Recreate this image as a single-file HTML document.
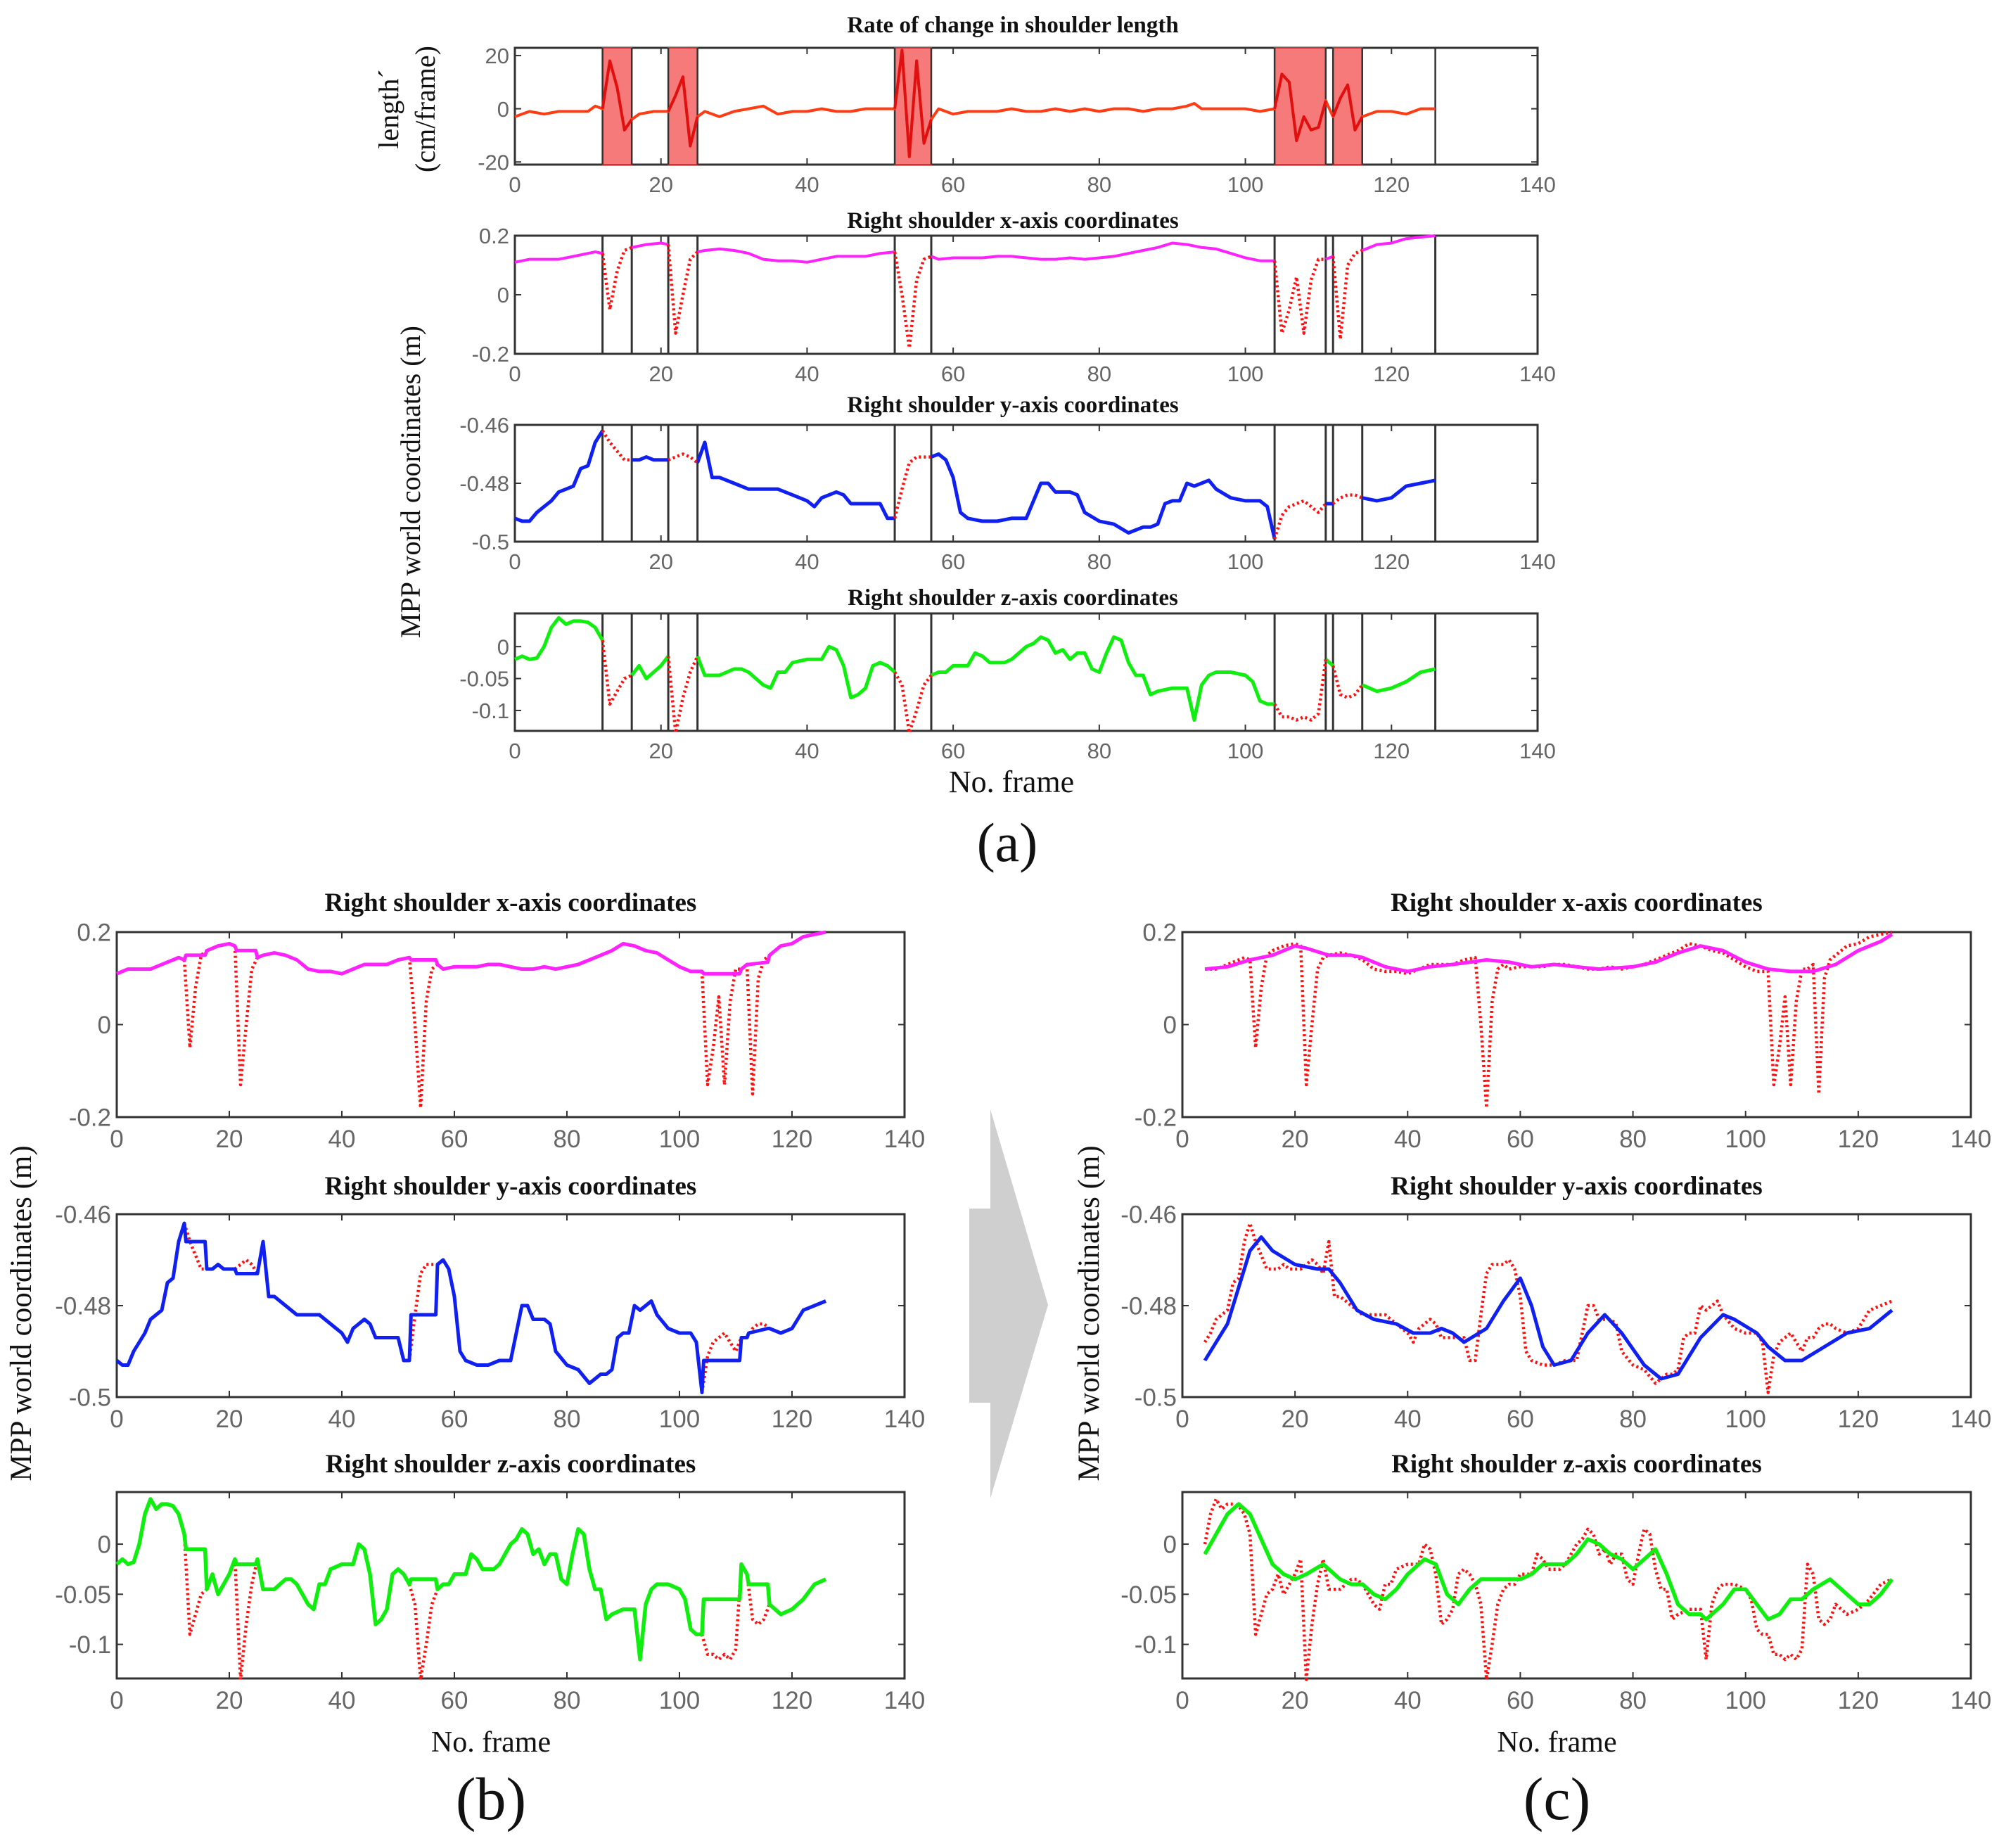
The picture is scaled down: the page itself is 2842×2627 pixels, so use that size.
<!DOCTYPE html>
<html><head><meta charset="utf-8"><style>
html,body{margin:0;padding:0;background:#fff;}
svg{display:block;}
</style></head><body>
<svg id="fig" width="2842" height="2627" viewBox="0 0 2842 2627" xmlns="http://www.w3.org/2000/svg"></svg>
<script>
// ---- data ----
const bounds = [12,16,21,25,52,57,104,111,112,116,126];
const intervals = [[12,16],[21,25],[52,57],[104,111],[112,116]];
const rateF = [0,2,4,6,8,10,11,12,13,14,15,16,17,19,21,22,23,24,25,26,28,30,32,34,36,38,40,42,44,46,48,50,52,53,54,55,56,57,58,60,62,64,66,68,70,72,74,76,78,80,82,84,86,88,90,92,93,94,96,98,100,102,104,105,106,107,108,109,110,111,112,113,114,115,116,118,120,122,124,126];
const rateV = [-3,-1,-2,-1,-1,-1,1,0,18,8,-8,-4,-2,-1,-1,5,12,-14,-3,-1,-3,-1,0,1,-2,-1,-1,0,-1,-1,0,0,0,22,-18,18,-13,-4,0,-2,-1,-1,-1,0,-1,-1,0,-1,0,-1,0,0,-1,0,0,1,2,0,0,0,0,-1,0,13,10,-12,-3,-8,-7,3,-3,4,9,-8,-3,-1,-1,-2,0,0];
const xF = [0,2,4,6,8,10,11,12,16,18,20,21,25,26,28,30,32,34,36,38,40,42,44,46,48,50,52,57,58,60,62,64,66,68,70,72,74,76,78,80,82,84,86,88,90,92,94,96,98,100,102,104,111,112,116,118,120,122,124,126];
const xV = [0.11,0.12,0.12,0.12,0.13,0.14,0.145,0.14,0.16,0.17,0.175,0.17,0.145,0.15,0.155,0.15,0.14,0.12,0.115,0.115,0.11,0.12,0.13,0.13,0.13,0.14,0.145,0.13,0.12,0.125,0.125,0.125,0.13,0.13,0.125,0.12,0.12,0.125,0.12,0.125,0.13,0.14,0.15,0.16,0.175,0.17,0.16,0.155,0.14,0.125,0.115,0.115,0.12,0.13,0.15,0.17,0.175,0.19,0.195,0.2];
const xDipF = [12,13,14,15,16,21,22,23,24,25,52,53,54,55,56,57,104,105,106,107,108,109,110,111,112,113,114,115,116];
const xDipV = [0.14,-0.05,0.08,0.15,0.16,0.17,-0.13,0.0,0.12,0.145,0.145,0.0,-0.18,0.05,0.12,0.13,0.115,-0.13,-0.05,0.06,-0.13,0.05,0.12,0.12,0.13,-0.15,0.1,0.14,0.15];
const yF = [0,1,2,3,4,5,6,7,8,9,10,11,12,16,17,18,19,20,21,25,26,27,28,30,32,34,36,38,40,41,42,44,45,46,48,50,51,52,57,58,59,60,61,62,64,66,68,70,71,72,73,74,76,77,78,80,82,84,86,87,88,89,90,91,92,93,95,96,98,100,102,103,104,111,112,116,118,120,122,124,126];
const yV = [-0.492,-0.493,-0.493,-0.49,-0.488,-0.486,-0.483,-0.482,-0.481,-0.475,-0.474,-0.466,-0.462,-0.472,-0.472,-0.471,-0.472,-0.472,-0.472,-0.473,-0.466,-0.478,-0.478,-0.48,-0.482,-0.482,-0.482,-0.484,-0.486,-0.488,-0.485,-0.483,-0.484,-0.487,-0.487,-0.487,-0.492,-0.492,-0.471,-0.47,-0.472,-0.478,-0.49,-0.492,-0.493,-0.493,-0.492,-0.492,-0.486,-0.48,-0.48,-0.483,-0.483,-0.484,-0.49,-0.493,-0.494,-0.497,-0.495,-0.495,-0.494,-0.487,-0.486,-0.486,-0.48,-0.481,-0.479,-0.482,-0.485,-0.486,-0.486,-0.488,-0.499,-0.487,-0.487,-0.485,-0.486,-0.485,-0.481,-0.48,-0.479];
const yDipF = [12,13,14,15,16,21,22,23,24,25,52,53,54,55,56,57,104,105,106,107,108,109,110,111,112,113,114,115,116];
const yDipV = [-0.462,-0.466,-0.469,-0.472,-0.472,-0.472,-0.471,-0.47,-0.471,-0.473,-0.492,-0.482,-0.473,-0.471,-0.471,-0.471,-0.499,-0.491,-0.488,-0.487,-0.486,-0.488,-0.49,-0.487,-0.487,-0.485,-0.484,-0.484,-0.485];
const zF = [0,1,2,3,4,5,6,7,8,9,10,11,12,16,17,18,19,20,21,25,26,28,30,31,32,34,35,36,37,38,40,42,43,44,45,46,47,48,49,50,51,52,57,58,59,60,62,63,64,65,67,68,69,70,71,72,73,74,75,76,77,78,79,80,81,82,83,84,85,86,87,88,90,92,93,94,95,96,98,100,101,102,103,104,111,112,116,118,120,122,124,126];
const zV = [-0.02,-0.015,-0.02,-0.018,0.0,0.03,0.045,0.035,0.04,0.04,0.038,0.03,0.01,-0.045,-0.03,-0.05,-0.04,-0.03,-0.015,-0.015,-0.045,-0.045,-0.035,-0.035,-0.04,-0.06,-0.065,-0.04,-0.04,-0.025,-0.02,-0.02,0.0,-0.005,-0.03,-0.08,-0.075,-0.065,-0.03,-0.025,-0.03,-0.04,-0.045,-0.04,-0.04,-0.03,-0.03,-0.01,-0.015,-0.025,-0.025,-0.02,-0.01,0.0,0.005,0.015,0.01,-0.01,-0.005,-0.02,-0.01,-0.01,-0.035,-0.04,-0.01,0.015,0.01,-0.025,-0.045,-0.045,-0.075,-0.07,-0.065,-0.065,-0.115,-0.06,-0.045,-0.04,-0.04,-0.045,-0.055,-0.085,-0.09,-0.09,-0.02,-0.03,-0.06,-0.07,-0.065,-0.055,-0.04,-0.035];
const zDipF = [12,13,14,15,16,21,22,23,24,25,52,53,54,55,56,57,104,105,106,107,108,109,110,111,112,113,114,115,116];
const zDipV = [0.01,-0.09,-0.07,-0.05,-0.045,-0.015,-0.135,-0.08,-0.04,-0.015,-0.04,-0.06,-0.135,-0.1,-0.06,-0.045,-0.09,-0.11,-0.11,-0.115,-0.11,-0.115,-0.105,-0.02,-0.03,-0.075,-0.08,-0.075,-0.06];
const xFillF = [12.3,15.7,21.3,24.7,52.3,56.7,104.3,110.7,112.3,115.7];
const xFillV = [0.15,0.15,0.16,0.16,0.14,0.14,0.11,0.11,0.13,0.135];
const yFillF = [12.3,15.7,21.3,24.7,52.3,56.7,104.3,110.7,112.3,115.7];
const yFillV = [-0.466,-0.466,-0.473,-0.473,-0.482,-0.482,-0.492,-0.492,-0.486,-0.485];
const zFillF = [12.3,15.7,21.3,24.7,52.3,56.7,104.3,110.7,112.3,115.7];
const zFillV = [-0.005,-0.005,-0.02,-0.02,-0.035,-0.035,-0.055,-0.055,-0.04,-0.04];
const cXF = [4,8,12,16,20,22,26,30,32,36,40,44,48,54,58,62,66,70,74,80,84,88,92,96,100,104,108,112,116,120,124,126];
const cXV = [0.12,0.125,0.14,0.15,0.17,0.165,0.15,0.15,0.145,0.125,0.115,0.125,0.13,0.14,0.135,0.125,0.13,0.125,0.12,0.125,0.135,0.155,0.17,0.16,0.135,0.12,0.115,0.115,0.13,0.16,0.18,0.195];
const cYF = [4,6,8,10,12,14,16,20,24,26,28,31,34,38,41,44,46,48,50,54,57,60,62,64,66,69,72,75,78,82,85,88,92,96,98,102,104,107,110,114,118,122,126];
const cYV = [-0.492,-0.488,-0.484,-0.476,-0.468,-0.465,-0.468,-0.471,-0.472,-0.472,-0.475,-0.481,-0.483,-0.484,-0.486,-0.486,-0.485,-0.486,-0.488,-0.485,-0.479,-0.474,-0.48,-0.489,-0.493,-0.492,-0.486,-0.482,-0.486,-0.493,-0.496,-0.495,-0.487,-0.482,-0.483,-0.486,-0.489,-0.492,-0.492,-0.489,-0.486,-0.485,-0.481];
const cZF = [4,6,8,10,12,14,16,18,20,22,25,28,30,32,34,36,38,40,43,45,47,49,51,53,56,60,62,64,68,70,72,74,76,78,80,82,84,86,88,90,92,93,96,98,100,102,104,106,108,110,112,115,118,120,122,124,126];
const cZV = [-0.01,0.01,0.03,0.04,0.03,0.005,-0.02,-0.03,-0.035,-0.03,-0.02,-0.035,-0.04,-0.04,-0.05,-0.055,-0.045,-0.03,-0.015,-0.02,-0.05,-0.06,-0.045,-0.035,-0.035,-0.035,-0.03,-0.02,-0.02,-0.01,0.005,0.0,-0.01,-0.015,-0.025,-0.015,-0.005,-0.03,-0.06,-0.07,-0.07,-0.075,-0.06,-0.045,-0.045,-0.06,-0.075,-0.07,-0.055,-0.055,-0.045,-0.035,-0.05,-0.06,-0.06,-0.05,-0.035];
const xTicks = [0,20,40,60,80,100,120,140];
const rateTicks = [20,0,-20];
const xcTicks = [0.2,0,-0.2];
const ycTicks = [-0.46,-0.48,-0.5];
const zcTicks = [0,-0.05,-0.1];

// ---- drawing ----
const NS = "http://www.w3.org/2000/svg";
const svg = document.getElementById('fig');
function el(tag, attrs, parent){
  const e = document.createElementNS(NS, tag);
  for (const k in attrs) e.setAttribute(k, attrs[k]);
  (parent||svg).appendChild(e);
  return e;
}
function pts(F,V){ return F.map((f,i)=>[f,V[i]]); }
function inside(f){ return intervals.some(iv=>f>iv[0]&&f<iv[1]); }
function merged(F,V,DF,DV){
  const a = pts(F,V).filter(p=>!inside(p[0]) && !DF.includes(p[0]));
  return a.concat(pts(DF,DV)).sort((p,q)=>p[0]-q[0]);
}
function filled(F,V,FF,FV){
  return pts(F,V).filter(p=>!inside(p[0])).concat(pts(FF,FV)).sort((p,q)=>p[0]-q[0]);
}
function makePanel(name, x0,x1,y0,y1,ymin,ymax,yt,ytFmt,fs){
  const g = el('g',{});
  
  
  const P = {g,x0,x1,y0,y1,
    sx:f=>x0+(f-0)/(140-0)*(x1-x0),
    sy:v=>y1-(v-ymin)/(ymax-ymin)*(y1-y0)};
  const box = el('rect',{x:x0,y:y0,width:x1-x0,height:y1-y0,fill:'#fff',stroke:'#333','stroke-width':3},g);
  
  
  xTicks.forEach(t=>{
    const px=P.sx(t);
    el('line',{x1:px,x2:px,y1:y1,y2:y1-9,stroke:'#333','stroke-width':2},g);
    el('line',{x1:px,x2:px,y1:y0,y2:y0+9,stroke:'#333','stroke-width':2},g);
    const tx = el('text',{x:px,y:y1+fs+8,'text-anchor':'middle','font-family':'Liberation Sans, sans-serif','font-size':fs,fill:'#666'},g);
    tx.textContent = t;
    
    
  });
  yt.forEach(t=>{
    const py=P.sy(t);
    el('line',{x1:x0,x2:x0+9,y1:py,y2:py,stroke:'#333','stroke-width':2},g);
    el('line',{x1:x1,x2:x1-9,y1:py,y2:py,stroke:'#333','stroke-width':2},g);
    const tx = el('text',{x:x0-8,y:py+fs*0.36,'text-anchor':'end','font-family':'Liberation Sans, sans-serif','font-size':fs,fill:'#666'},g);
    tx.textContent = ytFmt(t);
    
    
  });
  return P;
}
function poly(P, arr, color, w, dashed, name){
  const d = arr.map(p=>P.sx(p[0]).toFixed(1)+','+P.sy(p[1]).toFixed(1)).join(' ');
  const a = {points:d,fill:'none',stroke:color,'stroke-width':w,'stroke-linejoin':'round'};
  if (dashed) { a['stroke-dasharray']='3 4'; a['stroke-linecap']='butt'; }
  const e = el('polyline',a,P.g);
  
  
  return e;
}
function title(txt,x,y,fs,name){
  const t = el('text',{x:x,y:y,'text-anchor':'middle','font-family':'Liberation Serif, serif','font-weight':'bold','font-size':fs,fill:'#111'});
  t.textContent = txt;
  
  
}
function label(txt,x,y,fs,rot,name){
  const a = {x:x,y:y,'text-anchor':'middle','font-family':'Liberation Serif, serif','font-size':fs,fill:'#111'};
  if (rot) a.transform='rotate(-90 '+x+' '+y+')';
  const t = el('text',a);
  t.textContent = txt;
  
  
}
const fmt2 = t=> t===0?'0':String(t);
function segmentsOutside(arr){
  const segs=[[0,12],[16,21],[25,52],[57,104],[111,112],[116,126]];
  return segs.map(s=>arr.filter(p=>p[0]>=s[0]&&p[0]<=s[1]));
}
function dipSegs(DF,DV){
  return intervals.map(iv=>pts(DF,DV).filter(p=>p[0]>=iv[0]&&p[0]<=iv[1]));
}
function vlines(P,w){
  bounds.forEach(b=>{
    const l = el('line',{x1:P.sx(b),x2:P.sx(b),y1:P.y0,y2:P.y1,stroke:'#333','stroke-width':w},P.g);
    
    
  });
}

// ===== (a) =====
const AX0=732, AX1=2186, FA=31;
title('Rate of change in shoulder length',1440,46,33,'title-rate');
const a1 = makePanel('panel-a-rate',AX0,AX1,68,234,-21,22.9,rateTicks,fmt2,FA);
intervals.forEach(iv=>{
  const r = el('rect',{x:a1.sx(iv[0]),y:a1.y0,width:a1.sx(iv[1])-a1.sx(iv[0]),height:a1.y1-a1.y0,fill:'#f77a7a',stroke:'#c33','stroke-width':2},a1.g);
  
  
});
vlines(a1,2.5);
poly(a1,pts(rateF,rateV),'#ff3d14',4,false,'rate-line');
intervals.forEach(iv=>poly(a1,pts(rateF,rateV).filter(p=>p[0]>=iv[0]&&p[0]<=iv[1]),'#e01010',4,false,'rate-line-anomaly'));

title('Right shoulder x-axis coordinates',1440,324,33,'title-a-x');
const a2 = makePanel('panel-a-x',AX0,AX1,335,503,-0.2,0.2,xcTicks,fmt2,FA);
vlines(a2,3);
segmentsOutside(pts(xF,xV)).forEach(s=>poly(a2,s,'#ff22ff',4,false,'x-line'));
dipSegs(xDipF,xDipV).forEach(s=>poly(a2,s,'#ff1010',4.5,true,'x-missing'));

title('Right shoulder y-axis coordinates',1440,586,33,'title-a-y');
const a3 = makePanel('panel-a-y',AX0,AX1,604,770,-0.5,-0.46,ycTicks,fmt2,FA);
vlines(a3,3);
segmentsOutside(pts(yF,yV)).forEach(s=>poly(a3,s,'#1020f0',5,false,'y-line'));
dipSegs(yDipF,yDipV).forEach(s=>poly(a3,s,'#ff1010',4.5,true,'y-missing'));

title('Right shoulder z-axis coordinates',1440,860,33,'title-a-z');
const a4 = makePanel('panel-a-z',AX0,AX1,872,1039,-0.132,0.052,zcTicks,fmt2,FA);
vlines(a4,3);
segmentsOutside(pts(zF,zV)).forEach(s=>poly(a4,s,'#10ee10',5,false,'z-line'));
dipSegs(zDipF,zDipV).forEach(s=>poly(a4,s,'#ff1010',4.5,true,'z-missing'));

label('No. frame',1438,1126,44,false,'x-axis-title-a');
label('MPP world coordinates  (m)',597,685,40,true,'y-axis-title-a');
label('length´',566,155,40,true,'y-axis-title-rate-1');
label('(cm/frame)',618,155,40,true,'y-axis-title-rate-2');
label('(a)',1432,1224,78,false,'caption-a');

// ===== (b) and (c) =====
const FB=35;
function column(x0,x1,tag,smooth){
  const cx=(x0+x1)/2;
  title('Right shoulder x-axis coordinates',cx,1295,37,'title-'+tag+'-x');
  const p1 = makePanel('panel-'+tag+'-x',x0,x1,1325,1588,-0.2,0.2,xcTicks,fmt2,FB);
  title('Right shoulder y-axis coordinates',cx,1698,37,'title-'+tag+'-y');
  const p2 = makePanel('panel-'+tag+'-y',x0,x1,1726,1986,-0.5,-0.46,ycTicks,fmt2,FB);
  title('Right shoulder z-axis coordinates',cx,2093,37,'title-'+tag+'-z');
  const p3 = makePanel('panel-'+tag+'-z',x0,x1,2121,2386,-0.134,0.052,zcTicks,fmt2,FB);
  if (!smooth){
    dipSegs(xDipF,xDipV).forEach(s=>poly(p1,s,'#ff1010',4.5,true,'x-missing'));
    poly(p1,filled(xF,xV,xFillF,xFillV),'#ff22ff',5,false,'x-line');
    dipSegs(yDipF,yDipV).forEach(s=>poly(p2,s,'#ff1010',4.5,true,'y-missing'));
    poly(p2,filled(yF,yV,yFillF,yFillV),'#1020f0',5,false,'y-line');
    dipSegs(zDipF,zDipV).forEach(s=>poly(p3,s,'#ff1010',4.5,true,'z-missing'));
    poly(p3,filled(zF,zV,zFillF,zFillV),'#10ee10',5.5,false,'z-line');
  } else {
    poly(p1,merged(xF,xV,xDipF,xDipV).filter(p=>p[0]>=4),'#ff1010',4.5,true,'x-raw');
    poly(p1,pts(cXF,cXV),'#ff22ff',5,false,'x-smoothed');
    poly(p2,merged(yF,yV,yDipF,yDipV).filter(p=>p[0]>=4),'#ff1010',4.5,true,'y-raw');
    poly(p2,pts(cYF,cYV),'#1020f0',5,false,'y-smoothed');
    poly(p3,merged(zF,zV,zDipF,zDipV).filter(p=>p[0]>=4),'#ff1010',4.5,true,'z-raw');
    poly(p3,pts(cZF,cZV),'#10ee10',5.5,false,'z-smoothed');
  }
  label('No. frame',(x0+x1)/2-28,2490,42,false,'x-axis-title-'+tag);
  label('('+tag+')',(x0+x1)/2-28,2586,86,false,'caption-'+tag);
}
column(166,1286,'b',false);
column(1681,2802,'c',true);
label('MPP world coordinates (m)',44,1867,43,true,'y-axis-title-b');
label('MPP world coordinates (m)',1562,1867,43,true,'y-axis-title-c');

// arrow
const arr = el('polygon',{points:'1378,1718 1408,1718 1408,1577 1490,1855 1408,2130 1408,1994 1378,1994',fill:'#d0cfd0'});


</script>
</body></html>
